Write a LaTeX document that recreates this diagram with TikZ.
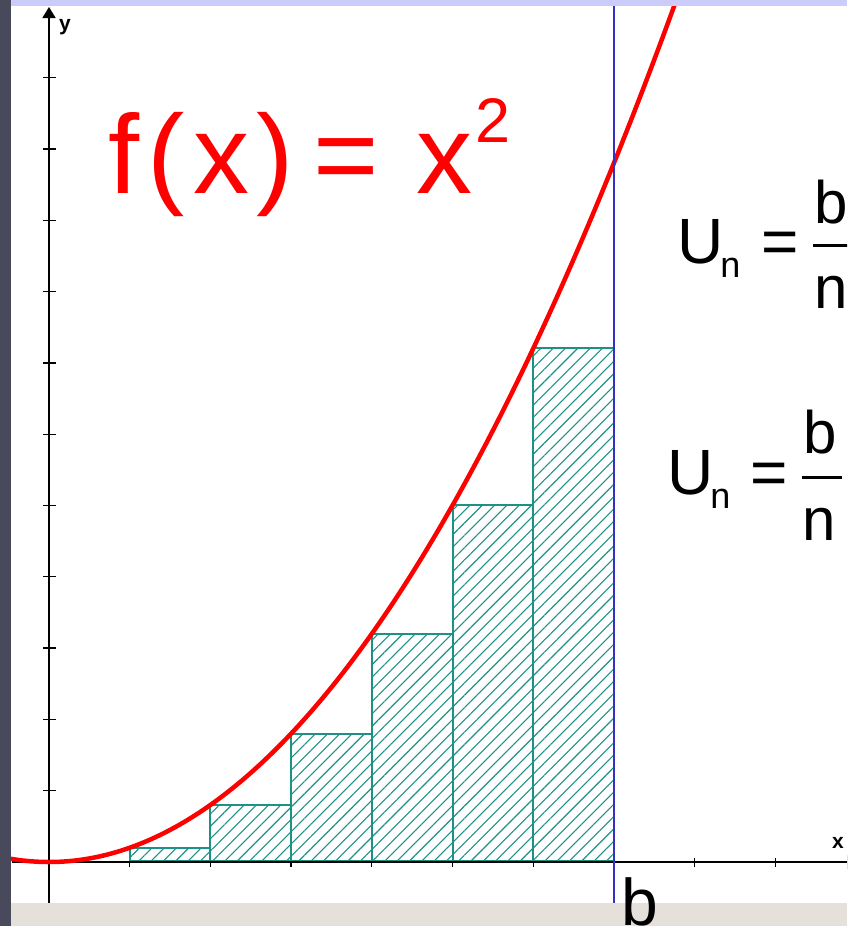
\documentclass[tikz,border=0pt]{standalone}
\usepackage{fontspec}
\setmainfont{Liberation Sans}
\usetikzlibrary{arrows.meta,patterns.meta}
\definecolor{stripdark}{RGB}{72,74,92}
\definecolor{stripblue}{RGB}{204,204,250}
\definecolor{stripbeige}{RGB}{230,224,218}
\definecolor{hatchteal}{RGB}{30,145,135}
\definecolor{bline}{RGB}{50,50,200}
\begin{document}
\begin{tikzpicture}[x=1pt,y=-1pt,
  axis/.style={line width=1.8pt,black},
  tickmark/.style={line width=1.3pt,black},
  barrect/.style={draw=hatchteal,line width=2pt,pattern={Lines[angle=45,distance=8.7pt,line width=1.1pt]},pattern color=hatchteal},
  curve/.style={red,line width=4.5pt},
  bmark/.style={bline,line width=1.8pt},
  fracbar/.style={black,line width=3pt},
  txt/.style={inner sep=0pt,anchor=base west},
  big/.style={txt,font=\fontsize{64}{64}\selectfont},
  frac/.style={txt,font=\fontsize{60}{60}\selectfont},
  axlabel/.style={txt,font=\fontsize{21}{21}\selectfont\bfseries}]
\useasboundingbox (0,0) rectangle (847,926);
\clip (0,0) rectangle (847,926);
\fill[white] (0,0) rectangle (847,926);
% ticks
\foreach \m in {1,...,11} {\draw[tickmark] (43,{862-71.3*\m}) -- (56,{862-71.3*\m});}
\foreach \k in {1,...,9} {\draw[tickmark] ({49+80.71*\k},858) -- ({49+80.71*\k},867);}
% rectangles (lower sum)
\foreach \i in {1,...,6} {
  \pgfmathsetmacro\L{49+80.71*\i}
  \pgfmathsetmacro\R{49+80.71*(\i+1)}
  \pgfmathsetmacro\T{862-14.265*\i*\i}
  \draw[barrect] (\L,861) rectangle (\R,\T);
}
% axes
\coordinate (yb) at (49,903);
\coordinate (yt) at (49,7);
\coordinate (xl) at (12,862);
\coordinate (xr) at (858,862);
\draw[axis,-{Triangle[length=11pt,width=13pt]}] (yb) -- (yt);
\draw[axis,-{Triangle[length=11pt,width=13pt]}] (xl) -- (xr);
\node[axlabel] (ylab) at (59,30) {y};
\node[axlabel] (xlab) at (832,848) {x};
% curve
\draw[curve] plot[domain=10:680,samples=160,smooth] (\x,{862-(0.046797*(\x-49))^2});
% b line
\coordinate (bt) at (614,6);
\coordinate (bb) at (614,903);
\draw[bmark] (bt) -- (bb);
% formula
\node[txt,red,font=\fontsize{112}{112}\selectfont] (fx) at (108,193)
  {f\hspace{8pt}(\hspace{9pt}x\hspace{7pt})\hspace{20pt}=\hspace{37pt}x\hspace{3pt}\raisebox{51pt}{\fontsize{63}{63}\selectfont 2}};
% first U_n
\node[big] (un1) at (677,263) {U\hspace{-3pt}\raisebox{-14pt}{\fontsize{36}{36}\selectfont n}};
\node[big] (eq1) at (761,263) {=};
\node[frac] (b1) at (814,223) {b};
\node[frac] (n1) at (814,308) {n};
\coordinate (bar1l) at (813,245.7);
\coordinate (bar1r) at (860,245.7);
\draw[fracbar] (bar1l) -- (bar1r);
% second U_n
\node[big] (un2) at (667,494) {U\hspace{-3pt}\raisebox{-14pt}{\fontsize{36}{36}\selectfont n}};
\node[big] (eq2) at (750,494) {=};
\node[frac] (b2) at (803,453) {b};
\node[frac] (n2) at (802,540) {n};
\coordinate (bar2l) at (802,477);
\coordinate (bar2r) at (842,477);
\draw[fracbar] (bar2l) -- (bar2r);
% frame strips
\fill[stripblue] (11,0) rectangle (847,6);
\fill[stripbeige] (11,903) rectangle (847,926);
\fill[stripdark] (0,0) rectangle (11,926);
\node[txt,font=\fontsize{66}{66}\selectfont] (blab) at (621,925) {b};
\end{tikzpicture}
\end{document}
